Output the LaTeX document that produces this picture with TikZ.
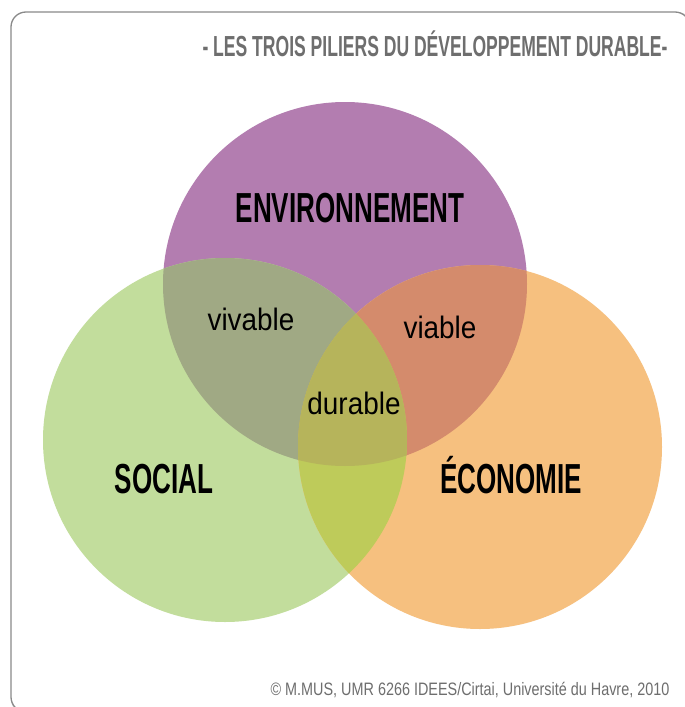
\documentclass[tikz,border=0pt]{standalone}
\usepackage{fontspec}
\usepackage{tikz}
\usetikzlibrary{positioning, calc}
\setmainfont{Liberation Sans}
\newfontfamily\capsfont{Liberation Sans}[FakeStretch=0.62]
\newfontfamily\titlefont{Liberation Sans}[FakeStretch=0.605]
\newfontfamily\lowfont{Liberation Sans}[FakeStretch=0.9]
\newfontfamily\notefont{Liberation Sans}[FakeStretch=0.8]
\definecolor{envcol}{HTML}{B37DB0}
\definecolor{soccol}{HTML}{C2DD9C}
\definecolor{ecocol}{HTML}{F6C07F}
\definecolor{envsoc}{HTML}{A0A984}
\definecolor{enveco}{HTML}{D48B6C}
\definecolor{soceco}{HTML}{BECB5A}
\definecolor{allcol}{HTML}{B6B45B}
\definecolor{framecol}{HTML}{8A8A8A}
\definecolor{greytxt}{HTML}{6E6E6E}

\begin{document}
\begin{tikzpicture}[x=1pt, y=-1pt,
    pillar/.style={anchor=base, inner sep=0pt, font=\capsfont\bfseries\fontsize{42}{44}\selectfont},
    quality/.style={anchor=base, inner sep=0pt, font=\lowfont\fontsize{31}{33}\selectfont},
    note/.style={anchor=base, inner sep=0pt, text=greytxt}]
    \useasboundingbox (0,0) rectangle (685,707);
    \fill[white] (0,0) rectangle (685,707);
    \draw[black!12, line width=3pt, rounded corners=15pt] (12.5,13.5) rectangle (692,714);
    \draw[framecol, line width=1.3pt, rounded corners=15pt, fill=white] (11,12) rectangle (690,712);
    \def\rad{182pt}
    \coordinate (env) at (345,284);
    \coordinate (soc) at (225,440);
    \coordinate (eco) at (480,447);
    \fill[envcol] (env) circle (\rad);
    \fill[soccol] (soc) circle (\rad);
    \fill[ecocol] (eco) circle (\rad);
    \begin{scope}
        \clip (env) circle (\rad);
        \fill[envsoc] (soc) circle (\rad);
        \fill[enveco] (eco) circle (\rad);
    \end{scope}
    \begin{scope}
        \clip (soc) circle (\rad);
        \fill[soceco] (eco) circle (\rad);
        \clip (env) circle (\rad);
        \fill[allcol] (eco) circle (\rad);
    \end{scope}
    \node[note, font=\titlefont\bfseries\fontsize{29}{31}\selectfont] (title) at (435,56) {- LES TROIS PILIERS DU DÉVELOPPEMENT DURABLE-};
    \node[pillar] (environnement) at (350,222) {ENVIRONNEMENT};
    \node[pillar] (social) at (164,493) {SOCIAL};
    \node[pillar] (economie) at (511,493) {ÉCONOMIE};
    \node[quality] (vivable) at (251,330) {vivable};
    \node[quality] (viable) at (440,338) {viable};
    \node[quality] (durable) at (354,414) {durable};
    \node[note, font=\notefont\fontsize{18}{20}\selectfont] (credit) at (470,695) {© M.MUS, UMR 6266 IDEES/Cirtai, Université du Havre, 2010};
\end{tikzpicture}
\end{document}
